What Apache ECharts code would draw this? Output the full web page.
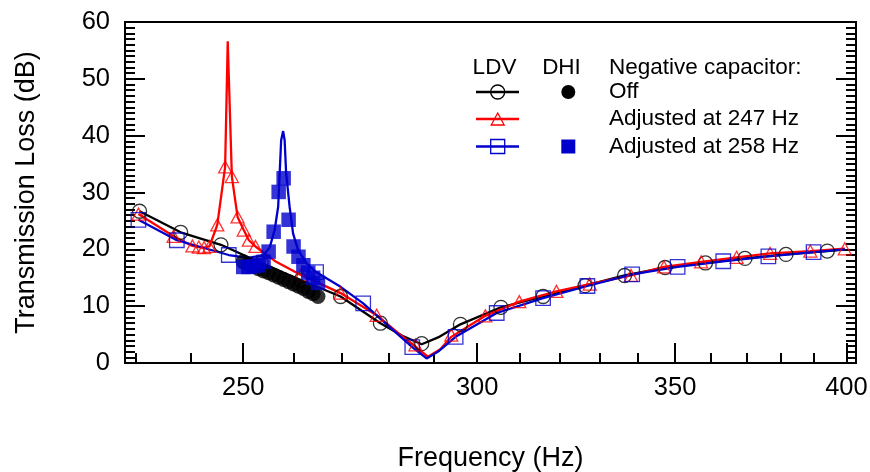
<!DOCTYPE html>
<html><head><meta charset="utf-8">
<script src="https://cdn.jsdelivr.net/npm/echarts@6/dist/echarts.min.js"></script>
<style>html,body{margin:0;padding:0;background:#fff}#c{width:870px;height:472px}</style>
</head><body><div id="c"></div>
<script>
// ---- data (frequency in Hz, transmission loss in dB) ----
const offLineFreq = [230.6,238.1,245.7,253.5,261.5,269.7,278.2,283.0,287.3,291.0,296.1,305.6,315.8,326.3,336.5,347.3,358.4,369.6,381.6,394.1,399.5];
const offLineTL   = [26.7,23.0,20.8,17.6,14.6,11.7,7.0,4.8,3.3,4.5,6.8,9.8,11.7,13.6,15.4,16.8,17.6,18.4,19.1,19.7,20.0];
const offMarkFreq = [230.6,238.1,245.7,253.5,261.5,269.7,278.2,287.3,296.1,305.6,315.8,326.3,336.5,347.3,358.4,369.6,381.6,394.1];
const offMarkTL   = [26.7,23.0,20.8,17.6,14.6,11.7,7.0,3.4,6.8,9.8,11.7,13.6,15.4,16.8,17.6,18.4,19.1,19.7];

const adj247LineFreq = [230.4,236.8,240.3,241.5,242.5,243.5,245.0,246.5,247.0,247.8,248.9,250.1,251.1,252.4,256.5,261.5,269.7,277.4,282.5,285.9,288.7,291.5,294.0,301.9,310.0,319.1,327.5,338.2,347.0,357.2,367.2,376.9,388.9,399.5];
const adj247LineTL   = [26.2,22.3,20.6,20.4,20.3,20.5,24.3,34.5,56.6,32.8,25.7,23.4,21.6,20.5,17.8,15.5,12.3,8.4,5.0,2.9,1.1,2.4,4.6,8.3,10.8,12.6,13.9,15.4,16.9,17.8,18.6,19.3,19.7,20.1];
const adj247MarkFreq = [230.4,236.8,240.3,241.5,242.5,243.5,245.0,246.5,247.8,248.9,250.1,251.1,252.4,261.5,269.7,277.4,285.9,294.0,301.9,310.0,319.1,327.5,338.2,347.0,357.2,367.2,376.9,388.9,399.5];
const adj247MarkTL   = [26.2,22.3,20.6,20.4,20.3,20.5,24.3,34.5,32.8,25.7,23.4,21.6,20.5,15.5,12.3,8.4,3.2,4.9,8.3,10.8,12.6,13.9,15.4,16.9,17.8,18.6,19.3,19.7,20.1];

const adj258LineFreq = [230.4,237.4,247.2,251.0,254.0,255.2,256.2,256.9,257.5,257.9,258.2,258.5,259.2,259.9,260.9,262.6,264.6,269.7,274.5,280.0,285.2,288.4,291.0,295.0,304.6,315.8,326.9,338.5,350.7,363.4,376.4,389.9,399.5];
const adj258LineTL   = [25.2,21.6,19.0,18.5,19.0,20.3,23.4,27.5,39.2,40.8,39.2,33.4,27.5,22.8,19.9,17.6,16.0,13.4,10.5,6.5,2.8,0.8,2.0,4.6,8.8,11.4,13.55,15.6,16.9,17.9,18.75,19.5,20.0];
const adj258MarkFreq = [230.4,237.4,247.2,264.6,274.5,285.2,295.0,304.6,315.8,326.9,338.5,350.7,363.4,376.4,389.9];
const adj258MarkTL   = [25.2,21.6,19.0,16.0,10.5,2.8,4.6,8.8,11.4,13.55,15.6,16.9,17.9,18.75,19.5];

const dhiFreq    = [250,251,252,253,254,255,256,257,258,259,260,261,262,263,264,265];
const dhiOffTL   = [17.8,17.4,17.0,16.6,16.2,15.9,15.5,15.1,14.7,14.3,13.9,13.5,13.1,12.6,12.2,11.7];
const dhi258TL   = [16.9,16.9,17.0,17.2,17.8,19.6,23.1,30.1,32.5,25.2,20.5,18.7,17.2,15.9,15.0,14.1];

const xMajorTicks = [250,300,350,400];
const xMinorTicks = [230,240,260,270,280,290,310,320,330,340,360,370,380,390];
const xRange = [228,403];
const yRange = [0,60];

// ---- build ----
const zip = (a,b) => a.map((v,i)=>[v,b[i]]);
const FONT = '"Liberation Sans", Arial, sans-serif';
const BLUE = '#0000CC', RED = '#FF0000', BLACK = '#000000';

const chart = echarts.init(document.getElementById('c'), null, {renderer:'canvas'});

const lineSeries = (data, color) => ({
  type:'line', data, showSymbol:false, symbol:'none', smooth:false,
  lineStyle:{color, width:2.3}, itemStyle:{color}, xAxisIndex:0, yAxisIndex:0, z:2
});
const markSeries = (data, symbol, size, color, filled, z) => ({
  type:'scatter', data, symbol, symbolSize:size, xAxisIndex:0, yAxisIndex:0, z,
  itemStyle: filled ? {color, borderWidth:0} : {color:'rgba(0,0,0,0)', borderColor:color, borderWidth:1.3}
});

const legendText = (x, y, text, align) => ({
  type:'text', x, y, style:{text, fill:'#000', font:'22.5px '+FONT, align:align||'left', verticalAlign:'middle'}
});

chart.setOption({
  animation:false,
  backgroundColor:'#fff',
  grid:{left:125, right:14, top:22, bottom:109, show:true, borderColor:'#000', borderWidth:2,
        containLabel:false, outerBoundsMode:'none'},
  xAxis:[{
    type:'log', min:xRange[0], max:xRange[1], logBase:10, position:'bottom',
    name:'Frequency (Hz)', nameLocation:'middle', nameGap:82,
    nameTextStyle:{fontSize:27, fontFamily:FONT, color:'#000'},
    axisLine:{show:true, lineStyle:{color:'#000', width:2}},
    axisTick:{show:true, inside:true, length:20, customValues:xMajorTicks, lineStyle:{color:'#000', width:2}},
    axisLabel:{show:true, customValues:xMajorTicks, margin:12, fontSize:25.5, fontFamily:FONT, color:'#000'},
    splitLine:{show:false}, minorTick:{show:false}, minorSplitLine:{show:false}
  },{
    type:'log', min:xRange[0], max:xRange[1], logBase:10, position:'bottom',
    axisLine:{show:false},
    axisTick:{show:true, inside:true, length:10, customValues:xMinorTicks, lineStyle:{color:'#000', width:2}},
    axisLabel:{show:false}, splitLine:{show:false}
  }],
  yAxis:[{
    type:'value', min:yRange[0], max:yRange[1], interval:10, position:'left',
    name:'Transmission Loss (dB)', nameLocation:'middle', nameGap:85,
    nameTextStyle:{fontSize:27, fontFamily:FONT, color:'#000'},
    axisLine:{show:true, lineStyle:{color:'#000', width:2}},
    axisTick:{show:true, inside:true, length:20, lineStyle:{color:'#000', width:2}},
    minorTick:{show:true, splitNumber:10, length:10, lineStyle:{color:'#000', width:2}},
    axisLabel:{margin:15, fontSize:25.5, fontFamily:FONT, color:'#000'},
    splitLine:{show:false}, minorSplitLine:{show:false}
  },{
    type:'value', min:yRange[0], max:yRange[1], interval:10, position:'right',
    axisLine:{show:false},
    axisTick:{show:true, inside:true, length:20, lineStyle:{color:'#000', width:2}},
    minorTick:{show:true, splitNumber:10, length:10, lineStyle:{color:'#000', width:2}},
    axisLabel:{show:false}, splitLine:{show:false}, minorSplitLine:{show:false}
  }],
  series:[
    lineSeries(zip(offLineFreq, offLineTL), BLACK),
    lineSeries(zip(adj247LineFreq, adj247LineTL), RED),
    lineSeries(zip(adj258LineFreq, adj258LineTL), BLUE),
    markSeries(zip(offMarkFreq, offMarkTL), 'circle', 14, BLACK, false, 3),
    markSeries(zip(adj247MarkFreq, adj247MarkTL), 'triangle', [13,12], RED, false, 3),
    markSeries(zip(adj258MarkFreq, adj258MarkTL), 'rect', 14.5, BLUE, false, 3),
    markSeries(zip(dhiFreq, dhiOffTL), 'circle', 15, BLACK, true, 4),
    markSeries(zip(dhiFreq, dhi258TL), 'rect', 14.5, BLUE, true, 5)
  ],
  graphic:[
    legendText(494.5, 68, 'LDV', 'center'),
    legendText(561.5, 68, 'DHI', 'center'),
    legendText(609, 68, 'Negative capacitor:'),
    legendText(609, 92, 'Off'),
    legendText(609, 119, 'Adjusted at 247 Hz'),
    legendText(609, 146.5, 'Adjusted at 258 Hz'),
    {type:'line', shape:{x1:476, y1:92, x2:519, y2:92}, style:{stroke:BLACK, lineWidth:2.3}},
    {type:'circle', shape:{cx:497.7, cy:92, r:7}, style:{stroke:BLACK, fill:null, lineWidth:1.3}},
    {type:'circle', shape:{cx:568.3, cy:92, r:7}, style:{fill:BLACK}},
    {type:'line', shape:{x1:476, y1:119, x2:519, y2:119}, style:{stroke:RED, lineWidth:2.3}},
    {type:'polygon', shape:{points:[[497.7,113],[504.2,125],[491.2,125]]}, style:{stroke:RED, fill:null, lineWidth:1.3}},
    {type:'line', shape:{x1:476, y1:146.5, x2:519, y2:146.5}, style:{stroke:BLUE, lineWidth:2.3}},
    {type:'rect', shape:{x:490.7, y:139.5, width:14, height:14}, style:{stroke:BLUE, fill:null, lineWidth:1.3}},
    {type:'rect', shape:{x:561.3, y:139.5, width:14, height:14}, style:{fill:BLUE}}
  ]
});
</script>
</body></html>
